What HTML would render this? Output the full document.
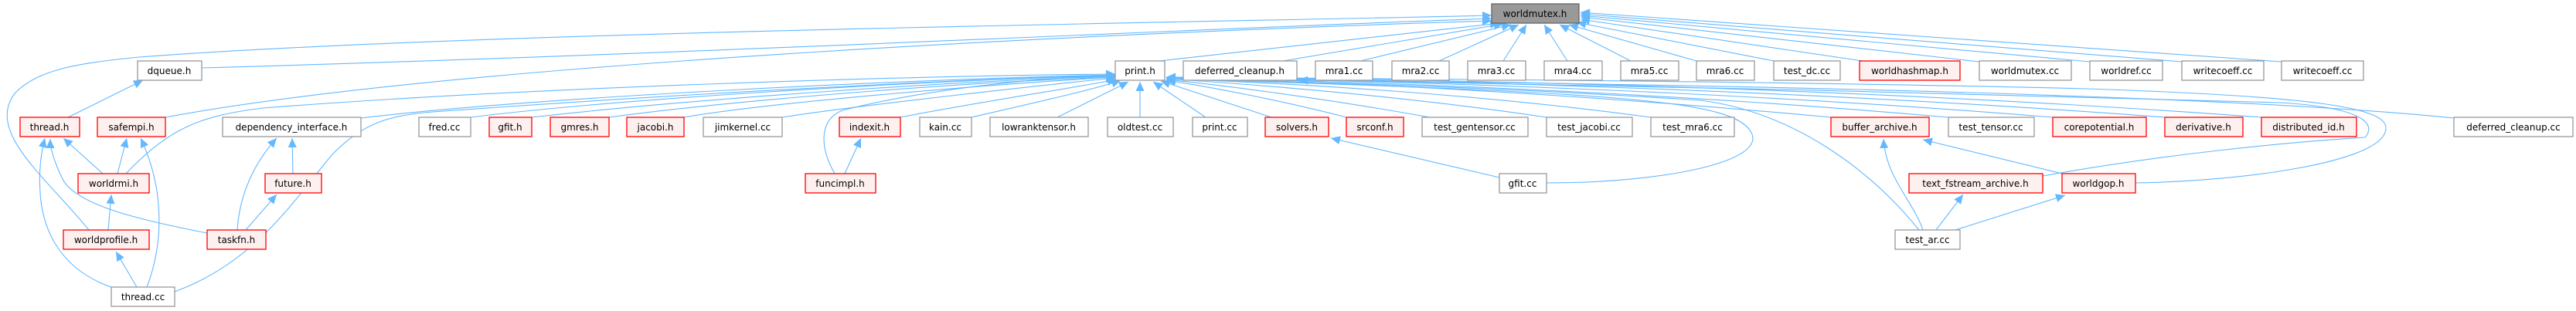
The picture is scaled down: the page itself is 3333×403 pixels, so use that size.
<!DOCTYPE html>
<html><head><meta charset="utf-8"><style>
html,body{margin:0;padding:0;background:#fff;}
svg{display:block;}
text{font-family:"DejaVu Sans","Liberation Sans",sans-serif;font-size:12px;fill:#000;text-anchor:middle;}
.e{fill:none;stroke:#63b8ff;stroke-width:1.1;}
.n{fill:#fff;stroke:#999;stroke-width:1.3;}
.r{fill:#fff0f0;stroke:#ff0000;stroke-width:1.3;}
.g{fill:#999;stroke:#666;stroke-width:1.3;}
</style></head><body>
<svg width="3333" height="403" viewBox="0 0 3333 403" xmlns="http://www.w3.org/2000/svg">
<defs><marker id="a" markerWidth="13" markerHeight="11" refX="12" refY="5.5" orient="auto" markerUnits="userSpaceOnUse"><path d="M0,0 L12,5.5 L0,11 z" fill="#63b8ff"/></marker></defs>
<g class="e" marker-end="url(#a)">
<path d="M261,88 C900,70 1600,35 1930,24"/>
<path d="M1660,79 L1945,31"/>
<path d="M1760,79 L1955,32"/>
<path d="M1862,79 L1965,32"/>
<path d="M1945,79 L1975,32"/>
<path d="M2028,79 L1998,32"/>
<path d="M2110,79 L2018,32"/>
<path d="M2195,79 L2030,32"/>
<path d="M2295,79 L2040,29"/>
<path d="M2410,79 L2045,25"/>
<path d="M2561,80 L2045,22"/>
<path d="M2704,80 L2045,20"/>
<path d="M2823,80 L2045,18"/>
<path d="M2952,80 L2045,16"/>
<path d="M1500,79 L1940,30"/>
<path d="M214,152 C600,80 1500,40 1930,27"/>
<path d="M115,298 C60,230 -20,170 20,120 C50,90 100,82 180,74 C600,42 1500,30 1930,20"/>
<path d="M163,225 C220,165 260,150 340,140 C700,112 1200,98 1443,96"/>
<path d="M467,153 C700,125 1200,102 1443,97"/>
<path d="M609,152 C800,128 1200,104 1443,98"/>
<path d="M688,152 C900,128 1250,104 1443,99"/>
<path d="M788,152 C950,130 1250,106 1443,100"/>
<path d="M885,152 C1000,132 1300,108 1443,100"/>
<path d="M1012,152 C1100,138 1350,110 1443,101"/>
<path d="M1165,152 C1250,135 1400,112 1445,103"/>
<path d="M1257,152 C1330,135 1420,115 1450,104"/>
<path d="M1368,152 L1460,106"/>
<path d="M1475,152 L1475,106"/>
<path d="M1560,152 L1492,106"/>
<path d="M1645,152 L1502,105"/>
<path d="M1742,152 C1650,128 1550,110 1509,104"/>
<path d="M1850,152 C1700,125 1560,108 1509,103"/>
<path d="M2001,152 C1800,122 1600,108 1509,102"/>
<path d="M2136,152 C1900,120 1650,107 1509,102"/>
<path d="M2369,152 C2000,118 1700,105 1509,101"/>
<path d="M2521,152 C2100,115 1700,104 1509,101"/>
<path d="M2656,152 C2200,115 1750,104 1509,100"/>
<path d="M2801,152 C2300,114 1800,103 1509,100"/>
<path d="M2926,152 C2400,113 1850,102 1509,100"/>
<path d="M226,378 C330,340 380,260 430,200 C470,160 500,150 560,145 C900,120 1300,100 1443,98"/>
<path d="M1080,225 C1060,190 1060,155 1090,143 C1200,115 1350,100 1443,98"/>
<path d="M2001,237 C2150,237 2290,210 2265,170 C2240,130 2100,120 1509,102"/>
<path d="M2483,298 C2420,220 2320,145 2200,130 C1900,110 1600,104 1509,102"/>
<path d="M2763,237 C2900,235 3090,210 3087,165 C3085,140 3000,125 2700,115 C2300,105 1800,102 1509,100"/>
<path d="M2643,228 C2800,200 2950,185 3060,178 C3072,165 3070,140 2950,133 C2500,120 1900,105 1509,100"/>
<path d="M3175,153 C2900,125 2300,110 1680,104"/>
<path d="M88,152 L185,104"/>
<path d="M133,225 L82,179"/>
<path d="M152,225 L164,179"/>
<path d="M140,298 L144,252"/>
<path d="M268,302 C180,285 95,265 80,230 C68,205 65,190 65,180"/>
<path d="M307,298 C310,250 330,210 358,179"/>
<path d="M318,298 L358,252"/>
<path d="M379,225 L378,179"/>
<path d="M144,372 C80,350 55,300 52,250 C50,220 53,200 58,179"/>
<path d="M177,372 L150,326"/>
<path d="M190,372 C210,320 215,250 182,179"/>
<path d="M1093,225 L1114,179"/>
<path d="M1940,230 L1722,179"/>
<path d="M2488,298 C2475,260 2440,230 2437,180"/>
<path d="M2505,298 L2540,252"/>
<path d="M2530,298 L2672,253"/>
<path d="M2668,225 L2488,181"/>
</g>
<rect class="g" x="1930" y="5" width="113" height="25"/><text x="1986" y="22">worldmutex.h</text>
<rect class="n" x="178" y="79" width="83" height="25"/><text x="219" y="96">dqueue.h</text>
<rect class="n" x="1443" y="79" width="64" height="25"/><text x="1475" y="96">print.h</text>
<rect class="n" x="1531" y="79" width="147" height="25"/><text x="1604" y="96">deferred_cleanup.h</text>
<rect class="n" x="1702" y="79" width="74" height="25"/><text x="1739" y="96">mra1.cc</text>
<rect class="n" x="1801" y="79" width="74" height="25"/><text x="1838" y="96">mra2.cc</text>
<rect class="n" x="1899" y="79" width="75" height="25"/><text x="1936" y="96">mra3.cc</text>
<rect class="n" x="1998" y="79" width="75" height="25"/><text x="2035" y="96">mra4.cc</text>
<rect class="n" x="2097" y="79" width="75" height="25"/><text x="2134" y="96">mra5.cc</text>
<rect class="n" x="2195" y="79" width="75" height="25"/><text x="2232" y="96">mra6.cc</text>
<rect class="n" x="2295" y="79" width="86" height="25"/><text x="2338" y="96">test_dc.cc</text>
<rect class="r" x="2406" y="79" width="130" height="25"/><text x="2471" y="96">worldhashmap.h</text>
<rect class="n" x="2561" y="79" width="119" height="25"/><text x="2620" y="96">worldmutex.cc</text>
<rect class="n" x="2704" y="79" width="94" height="25"/><text x="2751" y="96">worldref.cc</text>
<rect class="n" x="2823" y="79" width="106" height="25"/><text x="2876" y="96">writecoeff.cc</text>
<rect class="n" x="2952" y="79" width="106" height="25"/><text x="3005" y="96">writecoeff.cc</text>
<rect class="r" x="26" y="152" width="77" height="25"/><text x="64" y="169">thread.h</text>
<rect class="r" x="126" y="152" width="88" height="25"/><text x="170" y="169">safempi.h</text>
<rect class="n" x="288" y="152" width="179" height="25"/><text x="377" y="169">dependency_interface.h</text>
<rect class="n" x="542" y="152" width="67" height="25"/><text x="575" y="169">fred.cc</text>
<rect class="r" x="633" y="152" width="55" height="25"/><text x="660" y="169">gfit.h</text>
<rect class="r" x="712" y="152" width="76" height="25"/><text x="750" y="169">gmres.h</text>
<rect class="r" x="811" y="152" width="74" height="25"/><text x="848" y="169">jacobi.h</text>
<rect class="n" x="910" y="152" width="102" height="25"/><text x="961" y="169">jimkernel.cc</text>
<rect class="r" x="1086" y="152" width="79" height="25"/><text x="1125" y="169">indexit.h</text>
<rect class="n" x="1190" y="152" width="67" height="25"/><text x="1223" y="169">kain.cc</text>
<rect class="n" x="1281" y="152" width="127" height="25"/><text x="1344" y="169">lowranktensor.h</text>
<rect class="n" x="1433" y="152" width="85" height="25"/><text x="1475" y="169">oldtest.cc</text>
<rect class="n" x="1543" y="152" width="71" height="25"/><text x="1578" y="169">print.cc</text>
<rect class="r" x="1637" y="152" width="82" height="25"/><text x="1678" y="169">solvers.h</text>
<rect class="r" x="1742" y="152" width="74" height="25"/><text x="1779" y="169">srconf.h</text>
<rect class="n" x="1840" y="152" width="137" height="25"/><text x="1908" y="169">test_gentensor.cc</text>
<rect class="n" x="2001" y="152" width="111" height="25"/><text x="2056" y="169">test_jacobi.cc</text>
<rect class="n" x="2136" y="152" width="108" height="25"/><text x="2190" y="169">test_mra6.cc</text>
<rect class="r" x="2369" y="152" width="127" height="25"/><text x="2432" y="169">buffer_archive.h</text>
<rect class="n" x="2521" y="152" width="111" height="25"/><text x="2576" y="169">test_tensor.cc</text>
<rect class="r" x="2656" y="152" width="121" height="25"/><text x="2716" y="169">corepotential.h</text>
<rect class="r" x="2801" y="152" width="101" height="25"/><text x="2851" y="169">derivative.h</text>
<rect class="r" x="2926" y="152" width="123" height="25"/><text x="2987" y="169">distributed_id.h</text>
<rect class="n" x="3175" y="152" width="154" height="25"/><text x="3252" y="169">deferred_cleanup.cc</text>
<rect class="r" x="101" y="225" width="92" height="25"/><text x="147" y="242">worldrmi.h</text>
<rect class="r" x="343" y="225" width="73" height="25"/><text x="379" y="242">future.h</text>
<rect class="r" x="1042" y="225" width="91" height="25"/><text x="1087" y="242">funcimpl.h</text>
<rect class="n" x="1940" y="225" width="61" height="25"/><text x="1970" y="242">gfit.cc</text>
<rect class="r" x="2470" y="225" width="173" height="25"/><text x="2556" y="242">text_fstream_archive.h</text>
<rect class="r" x="2668" y="225" width="95" height="25"/><text x="2715" y="242">worldgop.h</text>
<rect class="r" x="82" y="298" width="111" height="25"/><text x="137" y="315">worldprofile.h</text>
<rect class="r" x="268" y="298" width="76" height="25"/><text x="306" y="315">taskfn.h</text>
<rect class="n" x="2452" y="298" width="84" height="25"/><text x="2494" y="315">test_ar.cc</text>
<rect class="n" x="144" y="372" width="82" height="25"/><text x="185" y="389">thread.cc</text>
</svg>
</body></html>
